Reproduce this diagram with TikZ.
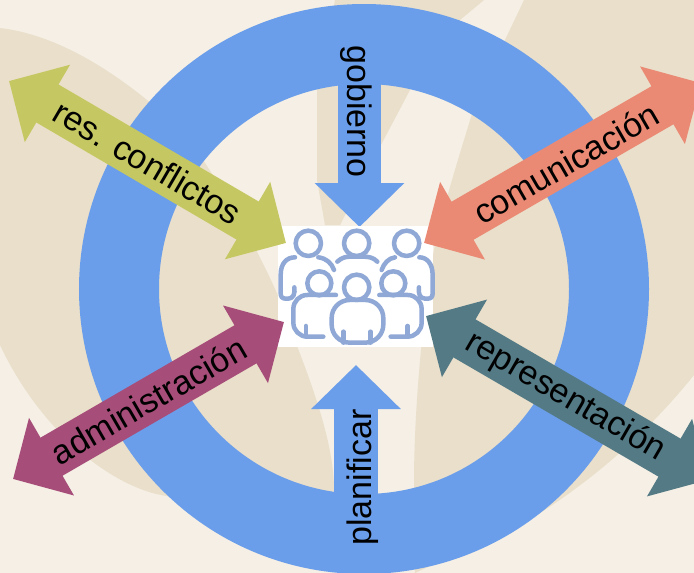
\documentclass[tikz,border=0pt]{standalone}
\usepackage{fontspec}
\setmainfont{Liberation Sans}
\usetikzlibrary{arrows.meta}
\definecolor{paper}{HTML}{F5EFE5}
\definecolor{tan}{HTML}{E9DFCA}
\definecolor{ringblue}{HTML}{6B9EEA}
\definecolor{olive}{HTML}{C5C862}
\definecolor{salmon}{HTML}{EA8A75}
\definecolor{plum}{HTML}{A64D79}
\definecolor{slate}{HTML}{537A85}
\definecolor{iconblue}{HTML}{8FA8D6}
\tikzset{
  flow/.style={line width=44pt,{Triangle[length=44.5pt,width=87pt]}-{Triangle[length=44.5pt,width=87pt]}},
  inflow/.style={line width=43.5pt,-{Triangle[length=44pt,width=87pt]},draw=ringblue},
  lbl/.style={font=\fontsize{34}{40}\selectfont,text=black,inner sep=0pt},
  petal/.style={fill=tan,draw=none},
  person/.style={draw=iconblue,line width=4.5pt,line cap=round,line join=round,fill=none},
  torso/.style={person,rounded corners=14pt}
}
\begin{document}
\begin{tikzpicture}[x=1pt,y=-1pt]
\useasboundingbox (0,0) rectangle (694,573);
\clip (0,0) rectangle (694,573);
\fill[paper] (0,0) rectangle (694,573);
% background petals
\path[petal] (0,28) .. controls (50,34) and (100,62) .. (147,100)
  .. controls (175,122) and (190,142) .. (203,160)
  .. controls (240,215) and (280,290) .. (297,346)
  .. controls (318,400) and (334,450) .. (334,490)
  -- (334,540) -- (167,496)
  .. controls (120,490) and (45,440) .. (0,345) -- cycle;
\path[petal] (524,0) .. controls (510,30) and (485,80) .. (471,117)
  .. controls (458,160) and (445,200) .. (434,250)
  .. controls (425,300) and (414,400) .. (414,483)
  -- (415,573) -- (430,566)
  .. controls (500,545) and (610,480) .. (694,375) -- (694,0) -- cycle;
\path[petal] (484,0) -- (460,20) -- (410,90) -- (382,143) -- (340,225) -- (325,225)
  -- (317,180) -- (317,90) -- (335,0) -- cycle;
% ring
\coordinate (ringc) at (364,289);
\draw[ringblue,line width=80pt] (ringc) circle[radius=245];
% vertical arrows
\coordinate (gobA) at (359.5,60);
\coordinate (gobB) at (359.5,227);
\coordinate (plaA) at (356,520);
\coordinate (plaB) at (356,365);
\draw[inflow] (gobA) -- (gobB);
\draw[inflow] (plaA) -- (plaB);
\node[lbl,rotate=-90] (gob) at (356,111.5) {gobierno};
\node[lbl,rotate=90] (pla) at (363,477.5) {planificar};
% icon
\node[fill=white,minimum width=155pt,minimum height=121pt,inner sep=0pt,anchor=north west] (icon) at (278,226) {};
\begin{scope}[shift={(260,200)},x=0.3333pt,y=-0.3333pt]
  \draw[person] (145,130) circle[radius=38];
  \draw[person] (290,130) circle[radius=38];
  \draw[person] (440,130) circle[radius=38];
  \draw[person] (178,250) circle[radius=36];
  \draw[person] (400,250) circle[radius=36];
  \draw[person] (290,262) circle[radius=38];
  \draw[person] (105,172) .. controls (80,172) and (62,190) .. (62,225) -- (62,280) .. controls (62,292) and (68,296) .. (78,296) -- (85,296) .. controls (100,296) and (106,280) .. (103,262);
  \draw[person] (175,172) .. controls (200,175) and (215,190) .. (222,210);
  \draw[person] (232,185) .. controls (245,172) and (260,170) .. (270,170) -- (310,170) .. controls (325,170) and (340,172) .. (352,185);
  \draw[person] (365,210) .. controls (372,190) and (385,175) .. (405,172);
  \draw[person] (478,172) .. controls (500,172) and (518,190) .. (518,225) -- (518,280) .. controls (518,292) and (512,296) .. (502,296) -- (495,296) .. controls (480,296) and (474,280) .. (477,262);
  \draw[torso] (228,285) -- (100,285) -- (100,410) -- (190,410);
  \draw[person] (138,378) -- (138,410);
  \draw[torso] (358,285) -- (485,285) -- (485,410) -- (392,410);
  \draw[person] (443,378) -- (443,410);
  \draw[torso,rounded corners=18pt] (215,428) -- (215,300) -- (370,300) -- (370,428) -- cycle;
  \draw[person] (250,395) -- (250,428);
  \draw[person] (332,395) -- (332,428);
\end{scope}
% diagonal double arrows
\coordinate (resA) at (9,81);
\coordinate (resB) at (286,243);
\coordinate (comA) at (424,243);
\coordinate (comB) at (701,83);
\coordinate (admA) at (13,479);
\coordinate (admB) at (284,322);
\coordinate (repA) at (426,316);
\coordinate (repB) at (708,480);
\draw[flow,draw=olive] (resA) -- node[lbl,sloped] (res) {res. conflictos} (resB);
\draw[flow,draw=salmon] (comA) -- node[lbl,sloped,xshift=3pt,yshift=-2pt] (com) {comunicación} (comB);
\draw[flow,draw=plum] (admA) -- node[lbl,sloped] (adm) {administración} (admB);
\draw[flow,draw=slate] (repA) -- node[lbl,sloped,xshift=-2pt] (rep) {representación} (repB);
\end{tikzpicture}
\end{document}
